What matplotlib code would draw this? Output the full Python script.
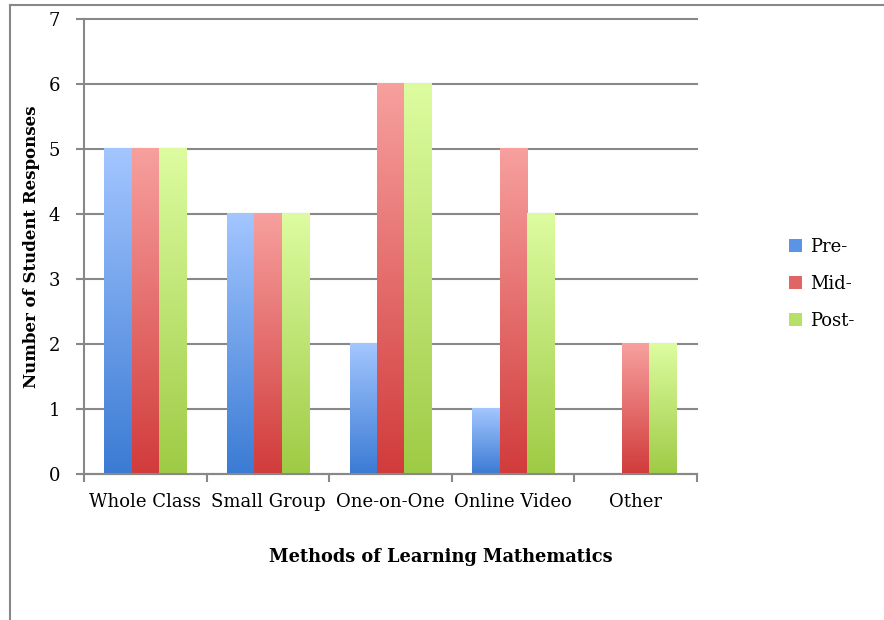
import numpy as np
import matplotlib
matplotlib.use("Agg")
import matplotlib.pyplot as plt
from matplotlib.patches import Patch
from matplotlib.colors import LinearSegmentedColormap
from matplotlib.lines import Line2D

categories = ["Whole Class", "Small Group", "One-on-One", "Online Video", "Other"]
series_names = ["Pre-", "Mid-", "Post-"]
pre = [5, 4, 2, 1, 0]
mid = [5, 4, 6, 5, 2]
post = [5, 4, 6, 4, 2]
values = [pre, mid, post]

# gradient (top color, bottom color)
grads = [("#a3c6ff", "#3b7bd4"), ("#f7a09e", "#d13b3b"), ("#ddfca0", "#9ecb45")]
legend_cols = ["#5b93e6", "#e06565", "#b8e066"]

plt.rcParams['font.family'] = ['DejaVu Serif']
fig = plt.figure(figsize=(8.84, 6.2), dpi=100)
ax = fig.add_axes([0.0950, 0.2355, 0.6935, 0.7339])

n = len(categories)
x = np.arange(n)
bw = 0.222
offsets = [-bw, 0, bw]
for s, vals in enumerate(values):
    bars = ax.bar(x + offsets[s], vals, width=bw, facecolor="none", edgecolor="none", zorder=3)
    cmap = LinearSegmentedColormap.from_list("g%d" % s, [grads[s][1], grads[s][0]])
    for r in bars:
        h = r.get_height()
        if h <= 0:
            continue
        x0 = r.get_x()
        w = r.get_width()
        grad = np.linspace(0, 1, 256).reshape(-1, 1)
        ax.imshow(grad, extent=[x0, x0 + w, 0, h], origin="lower", cmap=cmap,
                  aspect="auto", zorder=3, interpolation="bicubic")

ax.set_xlim(-0.5, n - 0.5)
ax.set_ylim(0, 7)
ax.set_yticks(range(0, 8))
ax.set_xticks(np.arange(-0.5, n, 1.0))
ax.set_xticklabels([])
ax.set_xticks(x, minor=True)
ax.set_xticklabels(categories, minor=True, fontsize=13)
ax.tick_params(axis="x", which="minor", length=0, pad=14)
ax.tick_params(axis="x", which="major", length=6, width=1.5, color="#888888", direction="out")
ax.tick_params(axis="y", length=6, width=1.5, color="#888888", direction="out", labelsize=13, pad=11)
ax.grid(axis="y", color="#888888", linewidth=1.5, zorder=0)
for gl in ax.get_ygridlines():
    gl.set_clip_on(False)
ax.set_axisbelow(True)
for sp in ["top", "right"]:
    ax.spines[sp].set_visible(False)
for sp in ["left", "bottom"]:
    ax.spines[sp].set_color("#888888")
    ax.spines[sp].set_linewidth(1.5)
    ax.spines[sp].set_zorder(4)

ax.set_ylabel("Number of Student Responses", fontsize=12, fontweight="bold", va="center")
ax.yaxis.set_label_coords((32 - 84) / 613, 0.5)
fig.text(441 / 884, 1 - 557 / 620, "Methods of Learning Mathematics", ha="center", va="center",
         fontsize=12.8, fontweight="bold")

handles = [Patch(facecolor=c, edgecolor="none") for c in legend_cols]
fig.legend(handles, series_names, loc="center left", bbox_to_anchor=(773 / 884, 1 - 284 / 620),
           frameon=False, fontsize=13, handlelength=0.7, handleheight=0.7,
           labelspacing=1.05, handletextpad=0.45)

# outer frame (top and left edges)
fig.add_artist(Line2D([10 / 884, 1], [1 - 5 / 620, 1 - 5 / 620], color="#888888", linewidth=1.5,
                      transform=fig.transFigure))
fig.add_artist(Line2D([10 / 884, 10 / 884], [0, 1 - 5 / 620], color="#888888", linewidth=1.5,
                      transform=fig.transFigure))

fig.savefig("out.png", dpi=100)
